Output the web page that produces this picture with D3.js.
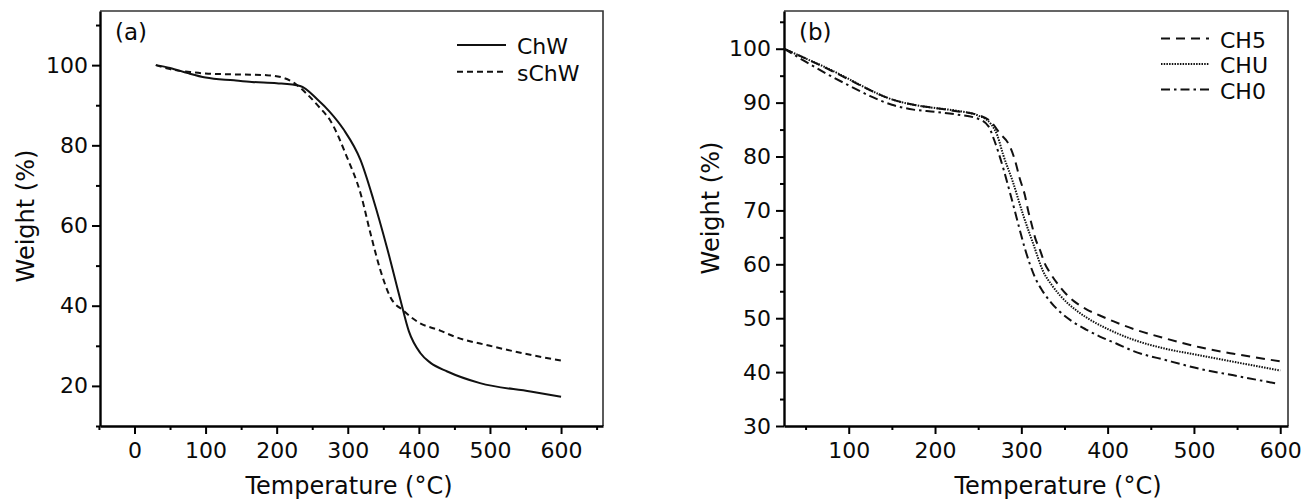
<!--
  index.html
  TGA curves, two panels
  -->
<html>
<head>
<meta http-equiv="Content-Type" content="text/html;charset=utf-8">
<script src="https://cdn.jsdelivr.net/npm/d3@7"></script>
<style>
  body { margin: 0; background: #fff; }
  svg text { font-family: "DejaVu Sans", sans-serif; fill: #0a0a0a; }
</style>
<title>TGA</title>
</head>
<body>
<svg id="chart" width="1306" height="502"></svg>
<script>
// panel (a): temperature (°C), weight (%)
var chwCurve = [[30,100],[50,99.3],[75,98],[100,96.9],[140,96.2],[165,95.8],[200,95.5],[233,94.8],
  [257,91.5],[275,88.3],[294,84],[318,76.3],[336,66.5],[355,54.6],[374,41.5],[386,33.6],
  [402,28.2],[416,25.8],[440,23.6],[486,20.7],[557,18.6],[600,17.3]];
var schwCurve = [[30,100],[50,99],[78,98.3],[100,97.9],[139,97.7],[186,97.5],[210,96.8],[225,95.5],
  [242,92.9],[260,89.5],[275,86.3],[299,77],[318,68],[332,58],[346,48.8],[360,42.1],
  [378,38.8],[400,35.8],[430,33.8],[450,32.3],[500,30],[550,28],[600,26.3]];

// panel (b)
var ch5Curve = [[25,100],[50,98.2],[75,96.3],[100,94.3],[125,92.3],[150,90.6],[175,89.6],[200,89],
  [225,88.4],[250,87.7],[265,86.4],[275,84.3],[287,81.8],[293,79.1],[298,76],[304,72.9],
  [308,69.9],[312,67.4],[316,64.9],[322,62.5],[327,60.2],[333,58.5],[341,56.6],[353,54.3],
  [364,52.8],[376,51.6],[391,50.5],[407,49.4],[430,48],[468,46.2],[507,44.6],[546,43.4],[600,42]];
var chuCurve = [[25,100],[50,98.2],[75,96.4],[100,94.4],[125,92.3],[150,90.6],[175,89.6],[200,89],
  [225,88.5],[250,87.6],[265,86],[272,84],[279,80.3],[290,75.4],[302,69.2],[314,63.7],
  [325,58.8],[336,56],[345,54.2],[365,51.3],[383,49.4],[400,48],[430,46],[468,44.3],
  [507,43.1],[546,41.9],[600,40.3]];
var ch0Curve = [[25,100],[50,97.6],[75,95.3],[100,93.2],[125,91.2],[150,89.6],[175,88.7],[200,88.3],
  [225,87.8],[250,87],[262,85.6],[268,83.3],[274,80.5],[280,77.3],[286,73.8],[292,70.2],
  [298,66.5],[304,63],[310,60],[316,57.5],[324,55.2],[334,53],[346,51],[360,49.3],[375,47.9],
  [391,46.6],[410,45.3],[430,43.9],[468,42.2],[507,40.6],[546,39.4],[595,37.9]];

var xTicksA = [0,100,200,300,400,500,600];
var xMinorA = [-50,50,150,250,350,450,550,650];
var yTicksA = [20,40,60,80,100];
var yMinorA = [10,30,50,70,90,110];

var xTicksB = [100,200,300,400,500,600];
var xMinorB = [50,150,250,350,450,550];
var yTicksB = [30,40,50,60,70,80,90,100];
var yMinorB = [35,45,55,65,75,85,95,105];

var svg = d3.select("#chart");

function panel(cfg){
  var x = d3.scaleLinear().domain(cfg.xDomain).range([cfg.left, cfg.right]);
  var y = d3.scaleLinear().domain(cfg.yDomain).range([cfg.bottom, cfg.top]);
  var g = svg.append("g");

  // frame top / right
  g.append("path")
    .attr("d", "M" + cfg.left + "," + cfg.top + "H" + cfg.right + "V" + cfg.bottom)
    .attr("fill", "none").attr("stroke", "#333").attr("stroke-width", 1.6);

  // minor ticks
  g.append("g").attr("transform", "translate(0," + cfg.bottom + ")")
    .call(d3.axisBottom(x).tickValues(cfg.xMinor).tickSize(4).tickFormat(""))
    .call(function(s){ s.select(".domain").remove(); })
    .selectAll("line").attr("stroke-width", 2);
  g.append("g").attr("transform", "translate(" + cfg.left + ",0)")
    .call(d3.axisLeft(y).tickValues(cfg.yMinor).tickSize(4).tickFormat(""))
    .call(function(s){ s.select(".domain").remove(); })
    .selectAll("line").attr("stroke-width", 2);

  var xa = g.append("g").attr("transform", "translate(0," + cfg.bottom + ")")
    .call(d3.axisBottom(x).tickValues(cfg.xTicks).tickSize(8).tickSizeOuter(0).tickPadding(8));
  var ya = g.append("g").attr("transform", "translate(" + cfg.left + ",0)")
    .call(d3.axisLeft(y).tickValues(cfg.yTicks).tickSize(8).tickSizeOuter(0).tickPadding(cfg.yPad));
  [xa, ya].forEach(function(a){
    a.select(".domain").attr("stroke", "#000").attr("stroke-width", 2.4);
    a.selectAll(".tick line").attr("stroke-width", 2);
    a.selectAll(".tick text").attr("font-size", 22).attr("font-family", "DejaVu Sans").attr("fill", "#0a0a0a");
  });

  var line = d3.line().x(function(d){ return x(d[0]); }).y(function(d){ return y(d[1]); })
    .curve(d3.curveMonotoneX);
  cfg.series.forEach(function(s){
    g.append("path").datum(s.data).attr("d", line)
      .attr("fill", "none").attr("stroke", "#111").attr("stroke-width", s.width || 2)
      .attr("stroke-dasharray", s.dash);
  });

  // legend
  cfg.series.forEach(function(s, i){
    var ly = cfg.legY + i * cfg.legStep;
    g.append("line").attr("x1", cfg.legX).attr("x2", cfg.legX + cfg.legLen)
      .attr("y1", ly).attr("y2", ly)
      .attr("stroke", "#111").attr("stroke-width", s.width || 2).attr("stroke-dasharray", s.dash);
    g.append("text").attr("x", cfg.legX + cfg.legLen + 11).attr("y", ly + 9)
      .attr("font-size", 22).text(s.name);
  });

  g.append("text").attr("x", cfg.left + 15).attr("y", 40).attr("font-size", 23).text(cfg.label);
  g.append("text").attr("x", cfg.xTitleX).attr("y", 494).attr("text-anchor", "middle")
    .attr("font-size", 24).text("Temperature (°C)");
  g.append("text").attr("transform", "translate(" + cfg.yTitleX + "," + cfg.yTitleY + ") rotate(-90)")
    .attr("text-anchor", "middle").attr("font-size", 24).text("Weight (%)");
}

panel({
  left: 100, right: 603, top: 11, bottom: 426,
  xDomain: [-48.5, 659], yDomain: [10, 113.5],
  xTicks: xTicksA, xMinor: xMinorA, yTicks: yTicksA, yMinor: yMinorA, yPad: 4,
  series: [
    {name: "ChW", data: chwCurve, dash: null},
    {name: "sChW", data: schwCurve, dash: "6,4"}
  ],
  legX: 457, legLen: 49, legY: 45, legStep: 26.7,
  label: "(a)", xTitleX: 349, yTitleX: 34, yTitleY: 216
});

panel({
  left: 784, right: 1288, top: 11, bottom: 426,
  xDomain: [25, 609], yDomain: [30, 107],
  xTicks: xTicksB, xMinor: xMinorB, yTicks: yTicksB, yMinor: yMinorB, yPad: 5,
  series: [
    {name: "CH5", data: ch5Curve, dash: "9,6"},
    {name: "CHU", data: chuCurve, dash: "1.5,1.2"},
    {name: "CH0", data: ch0Curve, dash: "9,4,2.5,4"}
  ],
  legX: 1161, legLen: 48, legY: 38.5, legStep: 25.5,
  label: "(b)", xTitleX: 1058, yTitleX: 719, yTitleY: 208
});
</script>
</body>
</html>
